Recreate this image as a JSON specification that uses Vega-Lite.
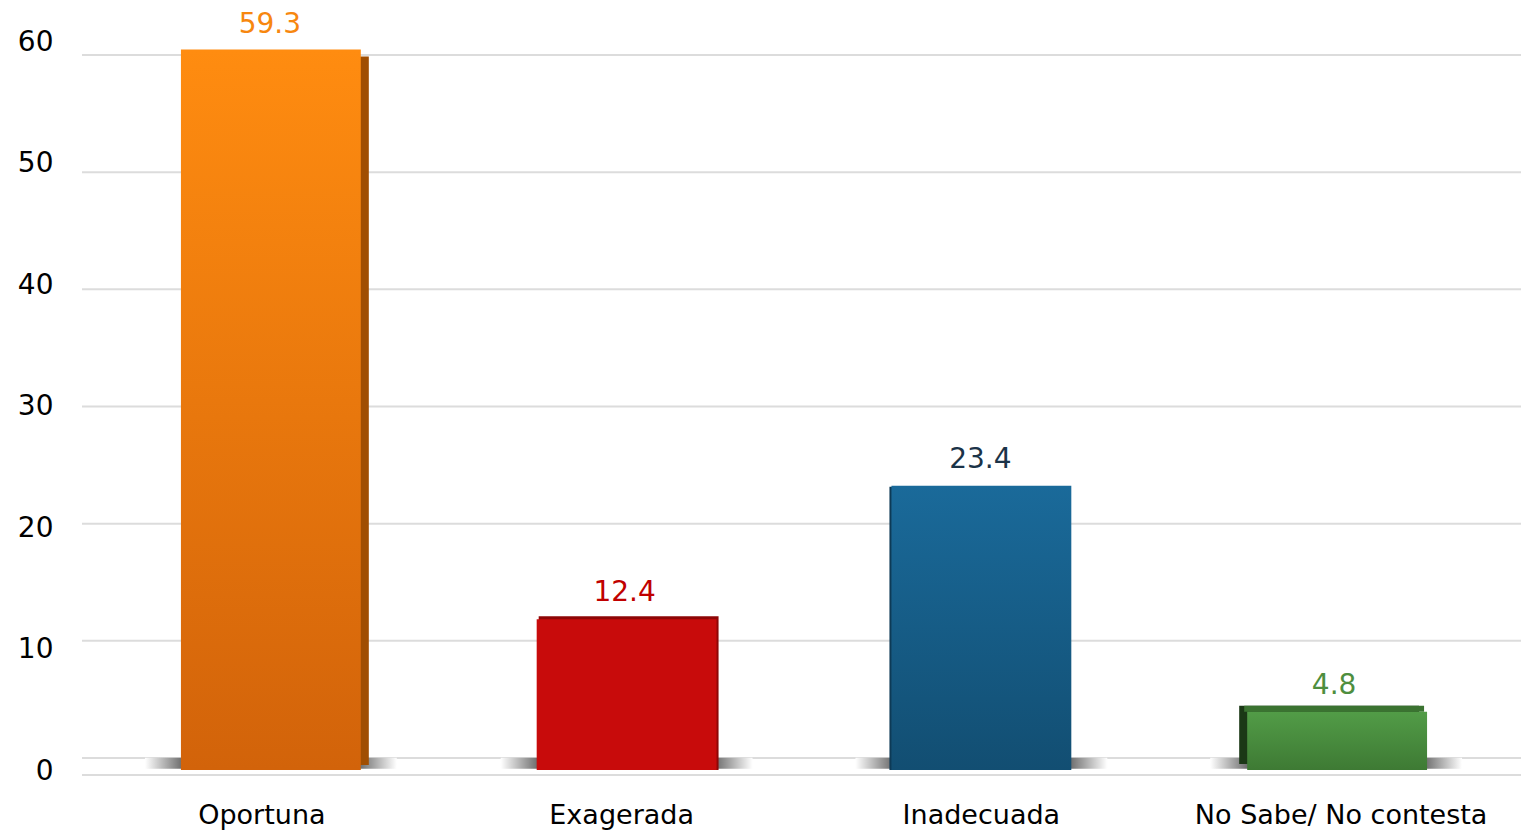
{
  "$schema": "https://vega.github.io/schema/vega-lite/v6.json",
  "width": 1439,
  "height": 729,
  "autosize": {"type": "none"},
  "padding": {"left": 82, "top": 41, "right": 0, "bottom": 62},
  "background": "white",
  "config": {"view": {"stroke": null}, "font": "DejaVu Sans"},
  "data": {"values": [
    {"categoria": "Oportuna", "valor": 59.3},
    {"categoria": "Exagerada", "valor": 12.4},
    {"categoria": "Inadecuada", "valor": 23.4},
    {"categoria": "No Sabe/ No contesta", "valor": 4.8}
  ]},
  "encoding": {
    "x": {
      "field": "categoria", "type": "nominal", "sort": null,
      "scale": {"paddingInner": 0.5, "paddingOuter": 0.25},
      "axis": {"title": null, "labelAngle": 0, "labelFontSize": 27, "labelColor": "#000000", "labelPadding": 32, "labelLimit": 0, "ticks": false, "domain": false, "grid": false}
    }
  },
  "layer": [
    {
      "data": {"values": [{"v": 0}, {"v": 10}, {"v": 20}, {"v": 30}, {"v": 40}, {"v": 50}, {"v": 60}]},
      "mark": {"type": "rule", "color": "#dcdcdc", "strokeWidth": 2},
      "encoding": {
        "x": null,
        "y": {"field": "v", "type": "quantitative", "scale": {"domain": [-1.02, 61.19], "nice": false, "zero": false}, "axis": null}
      }
    },
    {
      "encoding": {
        "y": {
          "field": "valor", "type": "quantitative",
          "scale": {"domain": [0, 60], "nice": false},
          "axis": {"title": null, "values": [0, 10, 20, 30, 40, 50, 60], "labelFontSize": 28, "labelColor": "#000000", "labelPadding": 29, "labelOffset": 1, "ticks": false, "domain": false, "grid": false}
        }
      },
      "layer": [
        {
          "mark": {"type": "rule", "color": "#dcdcdc", "strokeWidth": 2, "yOffset": 5},
          "encoding": {"x": null, "y": {"datum": 0}}
        },
        {
          "transform": [{"filter": "datum.categoria === 'Oportuna'"}],
          "layer": [
            {
              "mark": {"type": "bar", "xOffset": 9, "width": {"band": 1.4}, "color": {"gradient": "radial", "x1": 0.5, "y1": 0.5, "x2": 0.5, "y2": 0.5, "r1": 0, "r2": 0.5, "stops": [{"offset": 0, "color": "#3a3a3a"}, {"offset": 0.7, "color": "#6a6a6a"}, {"offset": 1, "color": "#ffffff"}]}},
              "encoding": {"y": {"datum": 0.1}, "y2": {"datum": 1.0}}
            },
            {"mark": {"type": "bar", "color": "#A04E02", "xOffset": 17, "yOffset": 7, "y2Offset": -5}, "encoding": {"y2": {"datum": 0}}},
            {"mark": {"type": "bar", "xOffset": 9, "color": {"gradient": "linear", "x1": 0, "y1": 0, "x2": 0, "y2": 1, "stops": [{"offset": 0, "color": "#FF8C10"}, {"offset": 1, "color": "#D2630A"}]}}, "encoding": {}},
            {"mark": {"type": "text", "baseline": "alphabetic", "dy": -17, "dx": 8, "fontSize": 28, "color": "#F7870F"}, "encoding": {"text": {"field": "valor", "type": "quantitative", "format": ".1f"}}}
          ]
        },
        {
          "transform": [{"filter": "datum.categoria === 'Exagerada'"}],
          "layer": [
            {
              "mark": {"type": "bar", "xOffset": 5, "width": {"band": 1.4}, "color": {"gradient": "radial", "x1": 0.5, "y1": 0.5, "x2": 0.5, "y2": 0.5, "r1": 0, "r2": 0.5, "stops": [{"offset": 0, "color": "#3a3a3a"}, {"offset": 0.7, "color": "#6a6a6a"}, {"offset": 1, "color": "#ffffff"}]}},
              "encoding": {"y": {"datum": 0.1}, "y2": {"datum": 1.0}}
            },
            {"mark": {"type": "bar", "color": "#8E0606", "xOffset": 7, "yOffset": -3}, "encoding": {"y2": {"datum": 0}}},
            {"mark": {"type": "bar", "xOffset": 5, "color": "#C80B0B"}, "encoding": {}},
            {"mark": {"type": "text", "baseline": "alphabetic", "dy": -18, "dx": 3, "fontSize": 28, "color": "#C00000"}, "encoding": {"text": {"field": "valor", "type": "quantitative", "format": ".1f"}}}
          ]
        },
        {
          "transform": [{"filter": "datum.categoria === 'Inadecuada'"}],
          "layer": [
            {
              "mark": {"type": "bar", "xOffset": 0, "width": {"band": 1.4}, "color": {"gradient": "radial", "x1": 0.5, "y1": 0.5, "x2": 0.5, "y2": 0.5, "r1": 0, "r2": 0.5, "stops": [{"offset": 0, "color": "#3a3a3a"}, {"offset": 0.7, "color": "#6a6a6a"}, {"offset": 1, "color": "#ffffff"}]}},
              "encoding": {"y": {"datum": 0.1}, "y2": {"datum": 1.0}}
            },
            {"mark": {"type": "bar", "color": "#0D3A56", "xOffset": -2, "yOffset": 1}, "encoding": {"y2": {"datum": 0}}},
            {"mark": {"type": "bar", "xOffset": 0, "color": {"gradient": "linear", "x1": 0, "y1": 0, "x2": 0, "y2": 1, "stops": [{"offset": 0, "color": "#1A6A9A"}, {"offset": 1, "color": "#124E72"}]}}, "encoding": {}},
            {"mark": {"type": "text", "baseline": "alphabetic", "dy": -18, "dx": -1, "fontSize": 28, "color": "#1B3348"}, "encoding": {"text": {"field": "valor", "type": "quantitative", "format": ".1f"}}}
          ]
        },
        {
          "transform": [{"filter": "datum.categoria === 'No Sabe/ No contesta'"}],
          "layer": [
            {
              "mark": {"type": "bar", "xOffset": -5, "width": {"band": 1.4}, "color": {"gradient": "radial", "x1": 0.5, "y1": 0.5, "x2": 0.5, "y2": 0.5, "r1": 0, "r2": 0.5, "stops": [{"offset": 0, "color": "#3a3a3a"}, {"offset": 0.7, "color": "#6a6a6a"}, {"offset": 1, "color": "#ffffff"}]}},
              "encoding": {"y": {"datum": 0.1}, "y2": {"datum": 1.0}}
            },
            {"mark": {"type": "bar", "color": "#1B3816", "xOffset": -12, "yOffset": -6, "y2Offset": -6}, "encoding": {"y2": {"datum": 0}}},
            {"mark": {"type": "bar", "color": "#3B7331", "xOffset": -7, "yOffset": -6}, "encoding": {"y2": {"field": "valor"}}},
            {"mark": {"type": "bar", "xOffset": -4, "color": {"gradient": "linear", "x1": 0, "y1": 0, "x2": 0, "y2": 1, "stops": [{"offset": 0, "color": "#529C47"}, {"offset": 1, "color": "#3E7A34"}]}}, "encoding": {}},
            {"mark": {"type": "text", "baseline": "alphabetic", "dy": -18, "dx": -7, "fontSize": 28, "color": "#4E8E3E"}, "encoding": {"text": {"field": "valor", "type": "quantitative", "format": ".1f"}}}
          ]
        }
      ]
    }
  ],
  "resolve": {"scale": {"y": "independent"}}
}
